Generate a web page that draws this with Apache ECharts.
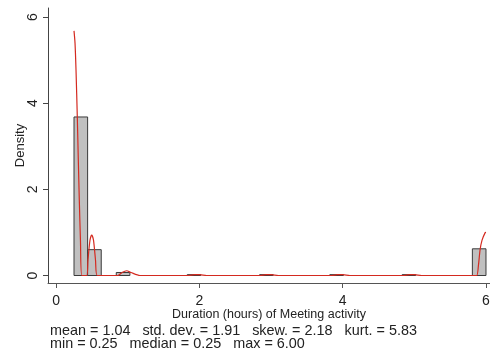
<!DOCTYPE html>
<html>
<head>
<meta charset="utf-8">
<style>html,body{margin:0;padding:0;background:#fff}#c{width:490px;height:357px}</style>
<script src="https://cdn.jsdelivr.net/npm/echarts@6/dist/echarts.min.js"></script>
</head>
<body>
<div id="c"></div>
<script>
// Histogram bins (hours) and densities
var binLeft  = [0.25, 0.44, 0.84, 1.83, 2.84, 3.82, 4.83, 5.81];
var binRight = [0.44, 0.63, 1.03, 2.02, 3.03, 4.01, 5.02, 6.00];
var binDensity = [3.68, 0.60, 0.07, 0.02, 0.02, 0.02, 0.02, 0.62];

// Kernel density curve
var kdeX = [0.25, 0.264, 0.278, 0.296, 0.31, 0.324, 0.34, 0.36, 0.427, 0.445, 0.473, 0.497, 0.522, 0.55, 0.575,
            0.86, 0.92, 0.985, 1.045, 1.17, 1.85, 1.93, 2.0, 2.1, 2.85, 2.93, 3.0, 3.1, 3.85, 3.93, 4.0, 4.1,
            4.85, 4.93, 5.0, 5.1, 5.80, 5.87, 5.895, 5.917, 5.945, 5.987, 6.0];
var kdeY = [5.68, 5.40, 4.77, 3.68, 2.68, 1.75, 0.82, 0.0, 0.0, 0.36, 0.82, 0.94, 0.82, 0.36, 0.0,
            0.0, 0.07, 0.11, 0.07, 0.0, 0.0, 0.02, 0.02, 0.0, 0.0, 0.02, 0.02, 0.0, 0.0, 0.02, 0.02, 0.0,
            0.0, 0.02, 0.02, 0.0, 0.0, 0.0, 0.24, 0.59, 0.82, 0.99, 1.0];

var xTicks = [0, 2, 4, 6];
var yTicks = [0, 2, 4, 6];

var statsLine1 = 'mean = 1.04   std. dev. = 1.91   skew. = 2.18   kurt. = 5.83';
var statsLine2 = 'min = 0.25   median = 0.25   max = 6.00';
var xTitle = 'Duration (hours) of Meeting activity';
var yTitle = 'Density';

var histData = binLeft.map(function (l, i) { return [l, binRight[i], binDensity[i]]; });
var kdeData = kdeX.map(function (x, i) { return [x, kdeY[i]]; });

var font = '"Liberation Sans", Arial, sans-serif';
var chart = echarts.init(document.getElementById('c'), null, {renderer: 'canvas'});
chart.setOption({
  animation: false,
  backgroundColor: '#fff',
  grid: {left: 48, right: 0, top: 8, bottom: 74, containLabel: false, outerBoundsMode: 'none'},
  xAxis: {
    type: 'value', min: -0.113, max: 6.056,
    name: xTitle, nameLocation: 'middle', nameGap: 25, nameMoveOverlap: false,
    nameTextStyle: {fontFamily: font, fontSize: 12.5, color: '#222'},
    axisLine: {show: true, onZero: false, lineStyle: {color: '#555', width: 1}},
    axisTick: {show: true, length: 5, customValues: xTicks, lineStyle: {color: '#555'}},
    axisLabel: {customValues: xTicks, margin: 11, fontFamily: font, fontSize: 14, color: '#222'},
    splitLine: {show: false}
  },
  yAxis: {
    type: 'value', min: -0.174, max: 6.21,
    name: yTitle, nameLocation: 'middle', nameGap: 21, nameMoveOverlap: false,
    nameTextStyle: {fontFamily: font, fontSize: 13, color: '#222'},
    axisLine: {show: true, onZero: false, lineStyle: {color: '#444', width: 1}},
    axisTick: {show: true, length: 5, customValues: yTicks, lineStyle: {color: '#444'}},
    axisLabel: {customValues: yTicks, rotate: 90, margin: 8, fontFamily: font, fontSize: 14, color: '#222'},
    splitLine: {show: false}
  },
  series: [
    {
      type: 'custom',
      data: histData,
      encode: {x: [0, 1], y: 2},
      renderItem: function (params, api) {
        var p0 = api.coord([api.value(0), 0]);
        var p1 = api.coord([api.value(1), api.value(2)]);
        return {
          type: 'rect',
          shape: {x: p0[0], y: p1[1], width: p1[0] - p0[0], height: p0[1] - p1[1]},
          style: {fill: '#c0c0c0', stroke: '#3a3a3a', lineWidth: 1}
        };
      },
      z: 1
    },
    {
      type: 'line',
      data: kdeData,
      showSymbol: false,
      smooth: 0.25,
      lineStyle: {color: '#d42a20', width: 1.2},
      z: 2
    }
  ],
  graphic: [
    {type: 'text', left: 50, top: 324, style: {text: statsLine1, font: '14.4px ' + font, fill: '#222'}},
    {type: 'text', left: 50, top: 337, style: {text: statsLine2, font: '14.4px ' + font, fill: '#222'}}
  ]
});
</script>
</body>
</html>
